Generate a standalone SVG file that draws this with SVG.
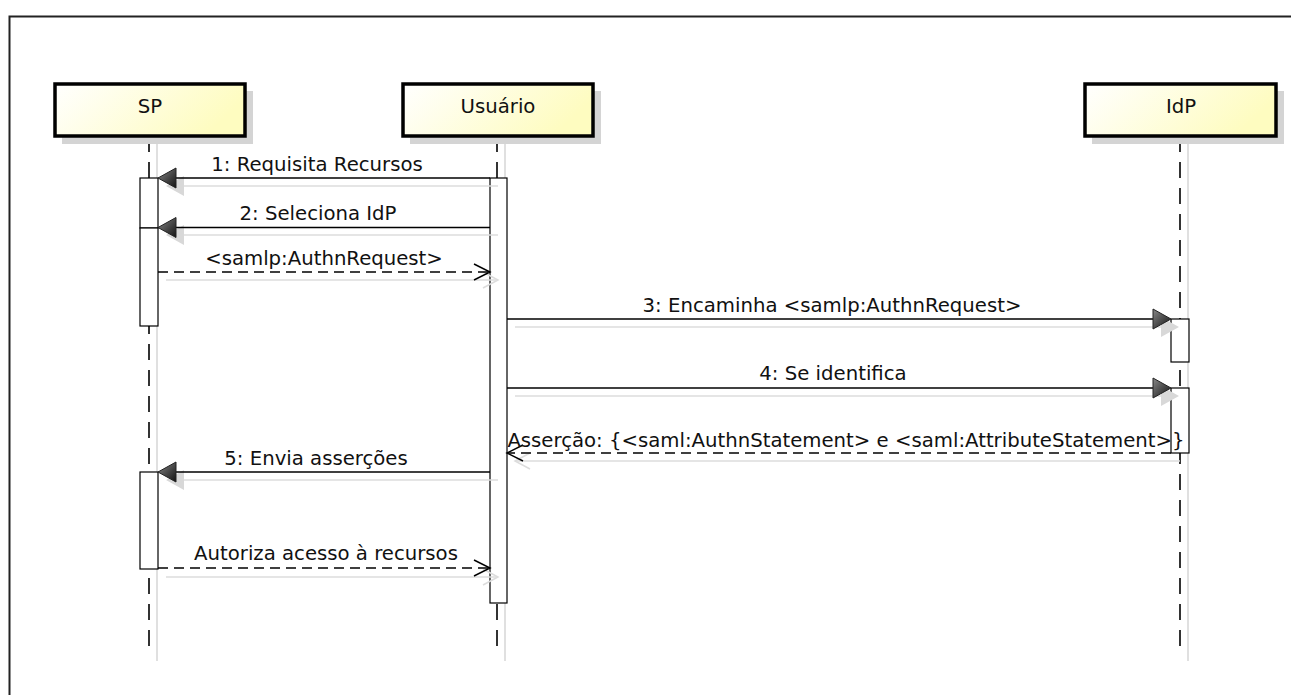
<svg xmlns="http://www.w3.org/2000/svg" width="1291" height="695" viewBox="0 0 1291 695">
<defs>
<linearGradient id="hg" x1="0" y1="0" x2="1" y2="0.3">
<stop offset="0" stop-color="#ffffff"/>
<stop offset="1" stop-color="#fefcc0"/>
</linearGradient>
<linearGradient id="ag" x1="0" y1="0" x2="1" y2="1">
<stop offset="0" stop-color="#888"/>
<stop offset="1" stop-color="#111"/>
</linearGradient>
<style>
.hdr{fill:url(#hg);stroke:#000;stroke-width:3.5}
.hsh{fill:#d4d4d4}
.life{stroke:#333;stroke-width:2;stroke-dasharray:16 10;fill:none}
.lsh{stroke:#e0e0e0;stroke-width:2;fill:none}
.act{fill:#fff;stroke:#000;stroke-width:1.2}
.msg{stroke:#000;stroke-width:1.5;fill:none}
.dmsg{stroke:#000;stroke-width:1.5;fill:none;stroke-dasharray:10 6}
.msh{stroke:#dcdcdc;stroke-width:1.5;fill:none}
.head{fill:url(#ag);stroke:#222;stroke-width:1}
.hsd{fill:#d8d8d8}
.open{stroke:#000;stroke-width:1.5;fill:none}
.osh{stroke:#dcdcdc;stroke-width:1.5;fill:none}
text{font-family:"DejaVu Sans","Liberation Sans",sans-serif;font-size:19.7px;fill:#111}
.c{text-anchor:middle}
</style>
</defs>
<rect x="0" y="0" width="1291" height="695" fill="#fff"/>
<path d="M9.5 700 V16.5 H1300" fill="none" stroke="#222" stroke-width="2"/>

<g id="lifelines">
<line class="lsh" x1="157" y1="144" x2="157" y2="661"/>
<line class="lsh" x1="505" y1="144" x2="505" y2="661"/>
<line class="lsh" x1="1188" y1="144" x2="1188" y2="661"/>
<line class="life" x1="149" y1="136" x2="149" y2="652"/>
<line class="life" x1="497" y1="136" x2="497" y2="652"/>
<line class="life" x1="1180" y1="136" x2="1180" y2="652"/>
</g>

<g id="SP">
<rect class="hsh" x="62" y="91" width="191" height="53"/>
<rect class="hdr" x="55" y="84" width="190" height="52"/>
<text class="c" x="150" y="113">SP</text>
</g>
<g id="Usuario">
<rect class="hsh" x="410" y="91" width="191" height="53"/>
<rect class="hdr" x="403" y="84" width="190" height="52"/>
<text class="c" x="498" y="113">Usuário</text>
</g>
<g id="IdP">
<rect class="hsh" x="1092" y="91" width="192" height="53"/>
<rect class="hdr" x="1085" y="84" width="191" height="52"/>
<text class="c" x="1181" y="113">IdP</text>
</g>

<g id="activations">
<rect class="act" x="490" y="178" width="17" height="425"/>
<rect class="act" x="140" y="178" width="18" height="50"/>
<rect class="act" x="140" y="228" width="18" height="98"/>
<rect class="act" x="1171" y="319" width="18" height="43"/>
<rect class="act" x="1171" y="388" width="18" height="65"/>
<rect class="act" x="140" y="472" width="18" height="97"/>
</g>

<g id="connectors">
<line class="msh" x1="176" y1="186" x2="498" y2="186"/>
<polygon class="hsd" points="166,186 184,176 184,196"/>
<line class="msh" x1="176" y1="235" x2="498" y2="235"/>
<polygon class="hsd" points="166,235 184,225 184,245"/>
<line class="msh" x1="166" y1="280" x2="498" y2="280"/>
<polyline class="osh" points="483,272 498,280 483,288"/>
<line class="msh" x1="515" y1="327" x2="1162" y2="327"/>
<polygon class="hsd" points="1179,327 1161,317 1161,337"/>
<line class="msh" x1="515" y1="396" x2="1162" y2="396"/>
<polygon class="hsd" points="1179,396 1161,386 1161,406"/>
<line class="msh" x1="515" y1="461" x2="1180" y2="461"/>
<polyline class="osh" points="530,453 515,461 530,469"/>
<line class="msh" x1="176" y1="480" x2="498" y2="480"/>
<polygon class="hsd" points="166,480 184,470 184,490"/>
<line class="msh" x1="166" y1="577" x2="498" y2="577"/>
<polyline class="osh" points="483,569 498,577 483,585"/>

<line class="msg" x1="490" y1="178" x2="175" y2="178"/>
<polygon class="head" points="158,178 176,168 176,188"/>
<text class="c" x="317" y="171">1: Requisita Recursos</text>

<line class="msg" x1="490" y1="227.5" x2="175" y2="227.5"/>
<polygon class="head" points="158,227.5 176,217.5 176,237.5"/>
<text class="c" x="318" y="220">2: Seleciona IdP</text>

<line class="dmsg" x1="158" y1="272" x2="489" y2="272"/>
<polyline class="open" points="474,264 490,272 474,280"/>
<text class="c" x="324" y="265">&lt;samlp:AuthnRequest&gt;</text>

<line class="msg" x1="507" y1="319" x2="1154" y2="319"/>
<polygon class="head" points="1171,319 1153,309 1153,329"/>
<text class="c" x="832" y="312">3: Encaminha &lt;samlp:AuthnRequest&gt;</text>

<line class="msg" x1="507" y1="388" x2="1154" y2="388"/>
<polygon class="head" points="1171,388 1153,378 1153,398"/>
<text class="c" x="833" y="380">4: Se identifica</text>

<line class="dmsg" x1="1171" y1="453" x2="508" y2="453"/>
<polyline class="open" points="523,445 507,453 523,461"/>
<text class="c" x="846" y="447">Asserção: {&lt;saml:AuthnStatement&gt; e &lt;saml:AttributeStatement&gt;}</text>

<line class="msg" x1="490" y1="472" x2="175" y2="472"/>
<polygon class="head" points="158,472 176,462 176,482"/>
<text class="c" x="316" y="465">5: Envia asserções</text>

<line class="dmsg" x1="158" y1="568" x2="489" y2="568"/>
<polyline class="open" points="474,560 490,568 474,576"/>
<text class="c" x="326" y="560">Autoriza acesso à recursos</text>
</g>
</svg>
